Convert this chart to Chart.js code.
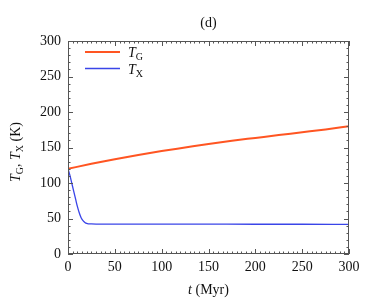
<!DOCTYPE html>
<html>
<head>
<meta charset="utf-8">
<script src="https://cdn.jsdelivr.net/npm/chart.js@4"></script>
<style>
  html, body { margin: 0; padding: 0; background: #fff; }
  #wrap { width: 374px; height: 299px; }
</style>
</head>
<body>
<div id="wrap"><canvas id="tempChart" width="374" height="299"></canvas></div>
<script>
// time (Myr) and temperatures (K)
const gasTimes = [0, 25, 50, 75, 100, 125, 150, 175, 200, 225, 250, 275, 300];
const gasTemps = [120, 127, 133.5, 139.5, 145, 150, 155, 159.5, 163.5, 167.5, 171.5, 175.5, 180];
const dustTimes = [0, 2, 4, 6, 8, 10, 12, 14, 16, 18, 20, 22, 25, 30, 50, 100, 150, 200, 250, 300];
const dustTemps = [120, 111, 100, 89, 78, 67, 58, 51, 47, 44.5, 43, 42.5, 42.3, 42.2, 42.2, 42, 42, 41.9, 41.9, 41.8];
const xTicks = [0, 50, 100, 150, 200, 250, 300];
const yTicks = [0, 50, 100, 150, 200, 250, 300];

const SERIF = '"Liberation Serif", "DejaVu Serif", serif';
const AXIS = '#555';

function toPoints(xs, ys) {
  return xs.map((x, i) => ({ x: x, y: ys[i] }));
}

// draws text made of pieces (italic T, small subscripts...) centred on x
function drawRich(ctx, parts, x, y) {
  let w = 0;
  parts.forEach(p => { ctx.font = p.font; w += ctx.measureText(p.text).width; });
  let cx = x - w / 2;
  ctx.textAlign = 'left';
  ctx.textBaseline = 'alphabetic';
  parts.forEach(p => {
    ctx.font = p.font;
    ctx.fillText(p.text, cx, y + (p.dy || 0));
    cx += ctx.measureText(p.text).width;
  });
}

const big = '14px ' + SERIF;
const bigIt = 'italic 14px ' + SERIF;
const sub = '10px ' + SERIF;

const decorations = {
  id: 'decorations',
  afterDraw(chart) {
    const ctx = chart.ctx;
    const a = chart.chartArea;
    const xs = chart.scales.x, ys = chart.scales.y;
    ctx.save();
    // frame
    ctx.strokeStyle = AXIS;
    ctx.lineWidth = 1;
    ctx.strokeRect(a.left + 0.5, a.top + 0.5, a.right - a.left - 1, a.bottom - a.top - 1);
    // inward ticks on all four sides
    ctx.beginPath();
    for (let v = xs.min; v <= xs.max + 0.001; v += 5) {
      const px = Math.round(xs.getPixelForValue(v)) + 0.5;
      const len = v % 50 === 0 ? 5 : 2.5;
      ctx.moveTo(px, a.bottom); ctx.lineTo(px, a.bottom - len);
      ctx.moveTo(px, a.top); ctx.lineTo(px, a.top + len);
    }
    for (let v = ys.min; v <= ys.max + 0.001; v += 10) {
      const py = Math.round(ys.getPixelForValue(v)) + 0.5;
      const len = v % 50 === 0 ? 5 : 2.5;
      ctx.moveTo(a.left, py); ctx.lineTo(a.left + len, py);
      ctx.moveTo(a.right, py); ctx.lineTo(a.right - len, py);
    }
    ctx.stroke();

    ctx.fillStyle = '#111';
    // panel label
    drawRich(ctx, [{ text: '(d)', font: big }], (a.left + a.right) / 2, 27);
    // x title
    drawRich(ctx, [{ text: 't', font: bigIt }, { text: ' (Myr)', font: big }], (a.left + a.right) / 2, 294);
    // y title
    ctx.save();
    ctx.translate(20, 152);
    ctx.rotate(-Math.PI / 2);
    drawRich(ctx, [
      { text: 'T', font: bigIt }, { text: 'G', font: sub, dy: 3 },
      { text: ', ', font: big },
      { text: 'T', font: bigIt }, { text: 'X', font: sub, dy: 3 },
      { text: ' (K)', font: big }
    ], 0, 0);
    ctx.restore();

    // legend
    chart.data.datasets.forEach((ds, i) => {
      const y = 52 + i * 16.5;
      ctx.strokeStyle = ds.borderColor;
      ctx.lineWidth = ds.borderWidth;
      ctx.beginPath();
      ctx.moveTo(85, y); ctx.lineTo(120, y);
      ctx.stroke();
      ctx.fillStyle = '#111';
      ctx.textAlign = 'left';
      ctx.textBaseline = 'alphabetic';
      ctx.font = bigIt;
      ctx.fillText('T', 128, y + 5);
      const tw = ctx.measureText('T').width;
      ctx.font = sub;
      ctx.fillText(ds.label, 128 + tw, y + 8);
    });
    ctx.restore();
  }
};

new Chart(document.getElementById('tempChart').getContext('2d'), {
  type: 'line',
  data: {
    datasets: [{
      label: 'G',
      data: toPoints(gasTimes, gasTemps),
      borderColor: '#ff5522',
      borderWidth: 2,
      pointRadius: 0,
      cubicInterpolationMode: 'monotone',
      fill: false
    }, {
      label: 'X',
      data: toPoints(dustTimes, dustTemps),
      borderColor: '#3a45e8',
      borderWidth: 1.3,
      pointRadius: 0,
      cubicInterpolationMode: 'monotone',
      fill: false
    }]
  },
  options: {
    responsive: false,
    animation: false,
    events: [],
    layout: { padding: { top: 41, right: 25, left: 0, bottom: 0 } },
    plugins: { legend: { display: false }, tooltip: { enabled: false } },
    scales: {
      x: {
        type: 'linear',
        min: 0, max: 300,
        afterBuildTicks: s => { s.ticks = xTicks.map(v => ({ value: v })); },
        afterFit: s => { s.height = 45; },
        grid: { display: false, drawTicks: false },
        border: { display: false },
        ticks: { color: '#111', padding: 5, maxRotation: 0, font: { family: SERIF, size: 14 } }
      },
      y: {
        min: 0, max: 300,
        afterBuildTicks: s => { s.ticks = yTicks.map(v => ({ value: v })); },
        afterFit: s => { s.width = 68; },
        grid: { display: false, drawTicks: false },
        border: { display: false },
        ticks: { color: '#111', padding: 7, font: { family: SERIF, size: 14 } }
      }
    }
  },
  plugins: [decorations]
});
</script>
</body>
</html>
